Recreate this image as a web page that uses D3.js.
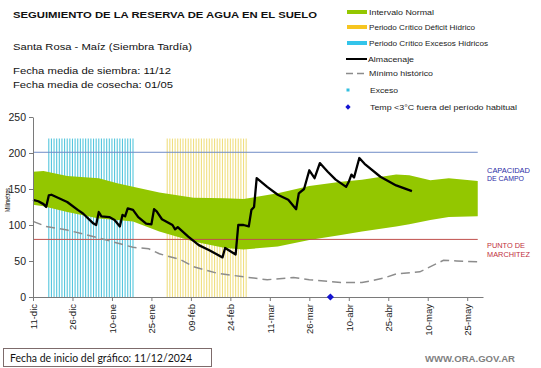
<!DOCTYPE html>
<meta charset="utf-8">
<script src="https://d3js.org/d3.v7.min.js"></script>
<style>
  body { margin: 0; background: #fff; }
</style>
<div id="container"></div>
<script>
  // svg dimensions
  width = 541
  height = 368

  // almacenaje (mm)
  almacenajeFechas = ["2024-12-11","2024-12-13","2024-12-15","2024-12-16","2024-12-17","2024-12-18","2024-12-24","2024-12-28","2024-12-30",
    "2025-01-03","2025-01-04","2025-01-05","2025-01-06","2025-01-09","2025-01-11","2025-01-13","2025-01-14","2025-01-15","2025-01-16",
    "2025-01-18","2025-01-20","2025-01-23","2025-01-25","2025-01-26","2025-01-27","2025-01-29","2025-02-02","2025-02-03","2025-02-04",
    "2025-02-08","2025-02-12","2025-02-16","2025-02-21","2025-02-22","2025-02-26","2025-02-27","2025-03-01","2025-03-03","2025-03-04",
    "2025-03-05","2025-03-06","2025-03-10","2025-03-14","2025-03-18","2025-03-21","2025-03-22","2025-03-24","2025-03-26","2025-03-28",
    "2025-03-30","2025-04-02","2025-04-05","2025-04-09","2025-04-10","2025-04-11","2025-04-12","2025-04-14","2025-04-16","2025-04-22",
    "2025-04-28","2025-05-04"];
  almacenajeMm = [135,133,129,125,141,142,132,121,116,
    102,100,118,112,111,107,98,114,112,123,
    121,111,102,101,122,119,108,100,94,97,
    84,72,65,55,68,59,100,100,98,121,
    125,165,153,142,135,122,144,150,176,165,
    186,174,163,153,160,170,166,193,185,167,
    155,147];

  // intervalo normal
  bandaFechas = ["2024-12-11","2024-12-15","2024-12-24","2025-01-05","2025-01-12","2025-01-18","2025-01-28","2025-02-10","2025-02-22",
    "2025-03-01","2025-03-14","2025-03-26","2025-04-07","2025-04-15","2025-04-28","2025-05-03","2025-05-11","2025-05-18","2025-05-29"];
  bandaMax = [174,175,168,165,158,153,145,138,137,136,144,154,160,163,170,169,162,165,161];
  bandaMin = [128,126,118,109,107,105,91,77,68,66,70,79,86,91,98,101,107,111,112];

  // minimo historico
  minimoFechas = ["2024-12-11","2024-12-16","2024-12-24","2025-01-05","2025-01-18","2025-01-24","2025-01-28","2025-02-05","2025-02-10",
    "2025-02-19","2025-03-01","2025-03-10","2025-03-20","2025-03-26","2025-04-07","2025-04-15","2025-04-23","2025-04-28","2025-05-07",
    "2025-05-16","2025-05-21","2025-05-29"];
  minimoMm = [105,98,93,82,69,67,60,52,42,33,28,24,27,24,20,20,26,32,35,51,50,49];

  // umbrales
  capacidadCampo = 201;
  puntoMarchitez = 80;
  finUmbrales = "2025-05-29";

  // periodos criticos (barras diarias)
  periodoExcesos = ["2024-12-17", "2025-01-18"];
  periodoDeficit = ["2025-01-31", "2025-03-02"];
  topePeriodo = 220;

  // temperaturas bajas
  heladas = ["2025-04-03"];

  // ejes
  tickFechas = ["2024-12-11","2024-12-26","2025-01-10","2025-01-25","2025-02-09","2025-02-24","2025-03-11","2025-03-26","2025-04-10","2025-04-25","2025-05-10","2025-05-25"];
  tickLabels = ["11-dic","26-dic","10-ene","25-ene","09-feb","24-feb","11-mar","26-mar","10-abr","25-abr","10-may","25-may"];
  yTicks = [0, 50, 100, 150, 200, 250];

  var parse = d3.timeParse("%Y-%m-%d");
  var font = "'Liberation Sans', Arial, sans-serif";

  var svg = d3.select("#container").append("svg")
    .attr("width", width)
    .attr("height", height)
    .style("font-family", font);

  var x = d3.scaleTime()
    .domain([parse("2024-12-11"), parse("2025-05-31")])
    .range([33, 483]);
  var y = d3.scaleLinear()
    .domain([0, 250])
    .range([297, 117]);

  // periodos criticos
  function drawPeriodo(periodo, color) {
      var dias = d3.timeDay.range(parse(periodo[0]), d3.timeDay.offset(parse(periodo[1]), 1));
      svg.append("g").selectAll("line")
        .data(dias)
        .enter().append("line")
        .attr("x1", d => x(d))
        .attr("x2", d => x(d))
        .attr("y1", y(0))
        .attr("y2", y(topePeriodo))
        .attr("stroke", color)
        .attr("stroke-width", 1.1);
  }
  drawPeriodo(periodoExcesos, "#55c6dd");
  drawPeriodo(periodoDeficit, "#f0df80");

  // intervalo normal
  var banda = bandaFechas.map((f, i) => ({ fecha: parse(f), max: bandaMax[i], min: bandaMin[i] }));
  svg.append("path")
    .datum(banda)
    .attr("fill", "#93c700")
    .attr("d", d3.area()
      .x(d => x(d.fecha))
      .y0(d => y(d.min))
      .y1(d => y(d.max)));

  // capacidad de campo / punto de marchitez
  svg.append("line")
    .attr("x1", x(parse("2024-12-11"))).attr("x2", x(parse(finUmbrales)))
    .attr("y1", y(capacidadCampo)).attr("y2", y(capacidadCampo))
    .attr("stroke", "#6f8cc6").attr("stroke-width", 1);
  svg.append("line")
    .attr("x1", x(parse("2024-12-11"))).attr("x2", x(parse(finUmbrales)))
    .attr("y1", y(puntoMarchitez)).attr("y2", y(puntoMarchitez))
    .attr("stroke", "#c0504d").attr("stroke-width", 1);

  // minimo historico
  var minimo = minimoFechas.map((f, i) => ({ fecha: parse(f), v: minimoMm[i] }));
  svg.append("path")
    .datum(minimo)
    .attr("fill", "none")
    .attr("stroke", "#8c8c8c")
    .attr("stroke-width", 1.5)
    .attr("stroke-dasharray", "9,5")
    .attr("d", d3.line().x(d => x(d.fecha)).y(d => y(d.v)));

  // almacenaje
  var almacenaje = almacenajeFechas.map((f, i) => ({ fecha: parse(f), v: almacenajeMm[i] }));
  svg.append("path")
    .datum(almacenaje)
    .attr("fill", "none")
    .attr("stroke", "#000")
    .attr("stroke-width", 2.3)
    .attr("stroke-linejoin", "round")
    .attr("d", d3.line().x(d => x(d.fecha)).y(d => y(d.v)));

  // ejes
  var yAxis = svg.append("g")
    .attr("transform", "translate(33,0)")
    .call(d3.axisLeft(y).tickValues(yTicks).tickSize(4).tickPadding(3).tickSizeOuter(0));
  var xAxis = svg.append("g")
    .attr("transform", "translate(0,297)")
    .call(d3.axisBottom(x).tickValues(tickFechas.map(parse)).tickFormat((d, i) => tickLabels[i]).tickSize(4).tickSizeOuter(0));
  [xAxis, yAxis].forEach(function(a) {
      a.select(".domain").attr("stroke", "#7a7a7a");
      a.selectAll(".tick line").attr("stroke", "#7a7a7a");
      a.selectAll("text").attr("font-family", font).attr("fill", "#222");
  });
  yAxis.selectAll("text").attr("font-size", 10.5);
  xAxis.selectAll("text")
    .attr("font-size", 9.5)
    .attr("transform", "rotate(-90)")
    .attr("x", -7)
    .attr("y", 0)
    .attr("dy", "0.35em")
    .style("text-anchor", "end");

  svg.append("text")
    .attr("transform", "translate(10,200) rotate(-90)")
    .attr("text-anchor", "middle")
    .attr("font-size", 7.5)
    .attr("textLength", 24)
    .attr("lengthAdjust", "spacingAndGlyphs")
    .text("Milimetros");

  // heladas
  svg.append("g").selectAll("path")
    .data(heladas.map(parse))
    .enter().append("path")
    .attr("transform", d => "translate(" + x(d) + "," + y(0) + ") rotate(45)")
    .attr("d", d3.symbol(d3.symbolSquare).size(26))
    .attr("fill", "#1414d2");

  // titulos
  function addText(tx, ty, s, size, len, weight) {
      var t = svg.append("text")
        .attr("x", tx).attr("y", ty)
        .attr("font-size", size)
        .attr("fill", "#111")
        .text(s);
      if (len) t.attr("textLength", len).attr("lengthAdjust", "spacingAndGlyphs");
      if (weight) t.attr("font-weight", weight);
      return t;
  }
  addText(13, 18, "SEGUIMIENTO DE LA RESERVA DE AGUA  EN EL SUELO", 9.5, 304, "bold");
  addText(13, 50, "Santa Rosa - Maíz (Siembra Tardía)", 9.5, 179);
  addText(13, 74, "Fecha media de siembra: 11/12", 9.5, 158);
  addText(13, 87.5, "Fecha media de cosecha: 01/05", 9.5, 160);

  // leyenda
  var legY = [12, 27, 43, 59, 73.5, 90, 107];
  svg.append("rect").attr("x", 347).attr("y", legY[0] - 2).attr("width", 20).attr("height", 4).attr("fill", "#93c700");
  svg.append("rect").attr("x", 347).attr("y", legY[1] - 2).attr("width", 20).attr("height", 4).attr("fill", "#f6c520");
  svg.append("rect").attr("x", 347).attr("y", legY[2] - 2).attr("width", 20).attr("height", 4).attr("fill", "#33c4ea");
  svg.append("line").attr("x1", 346).attr("x2", 367).attr("y1", legY[3]).attr("y2", legY[3]).attr("stroke", "#000").attr("stroke-width", 2);
  svg.append("line").attr("x1", 346).attr("x2", 367).attr("y1", legY[4]).attr("y2", legY[4])
    .attr("stroke", "#8c8c8c").attr("stroke-width", 1.5).attr("stroke-dasharray", "7,4");
  svg.append("rect").attr("x", 346.5).attr("y", legY[5] - 1.5).attr("width", 3).attr("height", 3).attr("fill", "#33bfe0");
  svg.append("path").attr("transform", "translate(348," + legY[6] + ") rotate(45)").attr("d", d3.symbol(d3.symbolSquare).size(14)).attr("fill", "#1414d2");
  var legTxt = ["Intervalo Normal", "Periodo Crítico Déficit Hídrico", "Periodo Crítico Excesos Hídricos", "Almacenaje", "Mínimo histórico", "Exceso", "Temp <3°C fuera del período habitual"];
  var legX = [369, 369, 369, 368, 369, 370, 370];
  var legLen = [65, 106, 119, 46, 64, 28, 147];
  legTxt.forEach(function(s, i) {
      addText(legX[i], legY[i] + 2.7, s, 7.5, legLen[i]).attr("fill", "#222");
  });

  // etiquetas de umbrales
  addText(487, 173, "CAPACIDAD", 7, 43).attr("fill", "#2b2ba6");
  addText(487, 181, "DE  CAMPO", 7, 37).attr("fill", "#2b2ba6");
  addText(487, 248, "PUNTO  DE", 7, 38).attr("fill", "#c0303c");
  addText(487, 257, "MARCHITEZ", 7, 43).attr("fill", "#c0303c");

  // pie
  svg.append("rect")
    .attr("x", 3.5).attr("y", 348.5)
    .attr("width", 208).attr("height", 18)
    .attr("fill", "none")
    .attr("stroke", "#7d6b6b");
  addText(10, 362, "Fecha de inicio del gráfico:  11/12/2024", 11, 182).attr("font-family", "Lato, 'Open Sans', sans-serif");
  addText(425, 362, "WWW.ORA.GOV.AR", 8.5, 90, "bold").attr("fill", "#7f7f7f");
</script>
